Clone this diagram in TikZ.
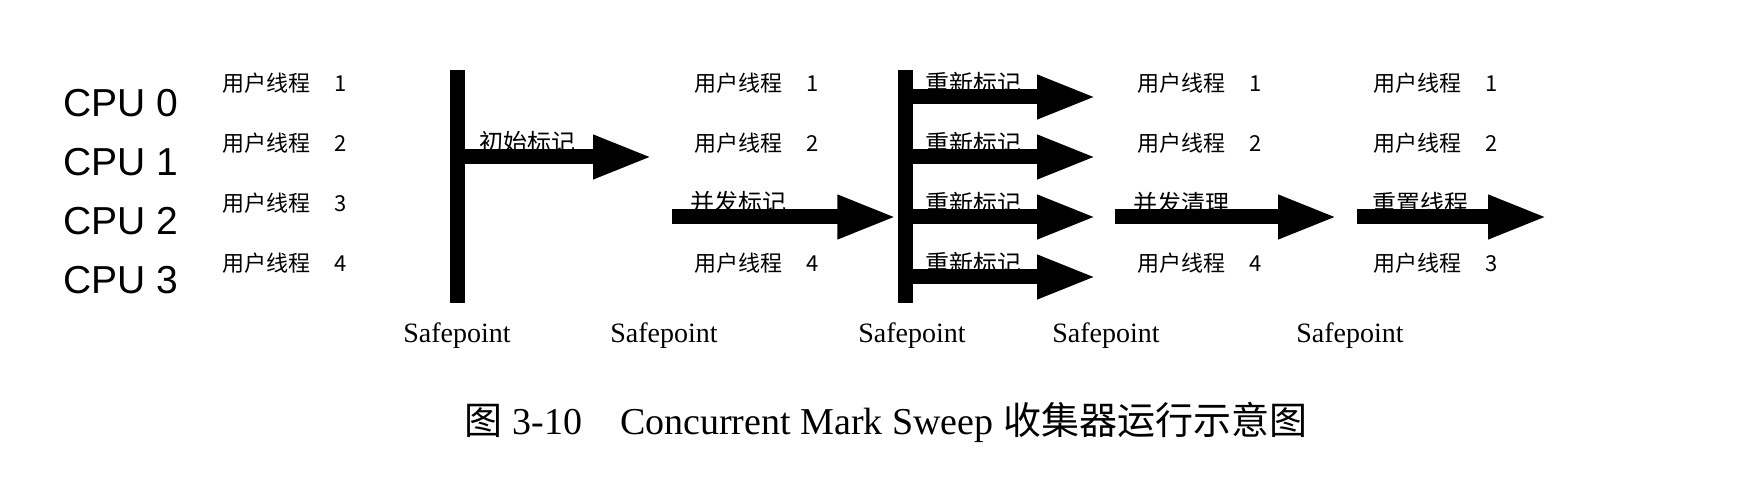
\documentclass[tikz,border=0pt]{standalone}
\usepackage{fontspec}
\setmainfont{Liberation Serif}
\newfontfamily\cjk{Noto Sans CJK SC}
\newfontfamily\cpusans{Liberation Sans}
\usetikzlibrary{arrows.meta}

\tikzset{
  cpu/.style={anchor=west, inner sep=0pt, font=\cpusans\fontsize{39}{39}\selectfont},
  thread/.style={anchor=west, inner sep=0pt, font=\cjk\fontsize{22}{22}\selectfont},
  phase/.style={inner sep=0pt, font=\cjk\fontsize{24}{24}\selectfont},
  spbar/.style={fill=black, inner sep=0pt, minimum width=15pt, minimum height=233pt},
  splabel/.style={inner sep=0pt, font=\fontsize{28}{28}\selectfont},
  flow/.style={line width=15pt, -{Triangle[length=60pt,width=40pt]}},
  caption/.style={inner sep=0pt, font=\fontsize{38}{38}\selectfont}
}
\newcommand{\thrd}[1]{用户线程\hspace{1.1em}#1}

\begin{document}
\begin{tikzpicture}[x=1pt,y=-1pt]
  \useasboundingbox (0,0) rectangle (1740,494);
  % cpus and first thread column
  \foreach \n [count=\i from 0] in {0,1,2,3}
    \node[cpu] (cpu\n) at (63,{103+59*\i}) {CPU \n};
  \foreach \n [count=\i from 0] in {1,2,3,4}
    \node[thread] (ta\n) at (222,{83+60*\i}) {\thrd{\n}};
  % threads between the safepoints
  \node[thread] (tb1) at (694,83) {\thrd{1}};
  \node[thread] (tb2) at (694,143) {\thrd{2}};
  \node[thread] (tb4) at (694,263) {\thrd{4}};
  \node[thread] (tc1) at (1137,83) {\thrd{1}};
  \node[thread] (tc2) at (1137,143) {\thrd{2}};
  \node[thread] (tc4) at (1137,263) {\thrd{4}};
  \node[thread] (td1) at (1373,83) {\thrd{1}};
  \node[thread] (td2) at (1373,143) {\thrd{2}};
  \node[thread] (td3) at (1373,263) {\thrd{3}};

  % safepoints
  \node[spbar] (sp1) at (457,186.5) {};
  \node[spbar] (sp3) at (905,186.5) {};
  \foreach \x [count=\k] in {457,664,912,1106,1350}
    \node[splabel] (spl\k) at (\x,336) {Safepoint};

  % phase labels
  \node[phase] (im) at (527,142) {初始标记};
  \node[phase] (cm) at (738,202) {并发标记};
  \foreach \i in {0,...,3}
    \node[phase] (rml\i) at (973,{83+60*\i}) {重新标记};
  \node[phase] (cs) at (1181,203) {并发清理};
  \node[phase] (rt) at (1420,203) {重置线程};

  % arrows
  \coordinate (imend) at (653,157);
  \draw[flow] (sp1 |- imend) -- (imend);
  \coordinate (cmstart) at (672,217);
  \draw[flow] (cmstart) -- (sp3.west |- cmstart);
  \foreach \i in {0,...,3} {
    \coordinate (rm\i) at (1097,{97+60*\i});
    \draw[flow] (sp3 |- rm\i) -- (rm\i);
  }
  \coordinate (csstart) at (1115,217);
  \coordinate (csend) at (1338,217);
  \draw[flow] (csstart) -- (csend);
  \coordinate (rtstart) at (1357,217);
  \coordinate (rtend) at (1548,217);
  \draw[flow] (rtstart) -- (rtend);

  \node[caption] (cap) at (886,422) {{\cjk 图} 3-10\quad Concurrent Mark Sweep {\cjk 收集器运行示意图}};
\end{tikzpicture}
\end{document}
